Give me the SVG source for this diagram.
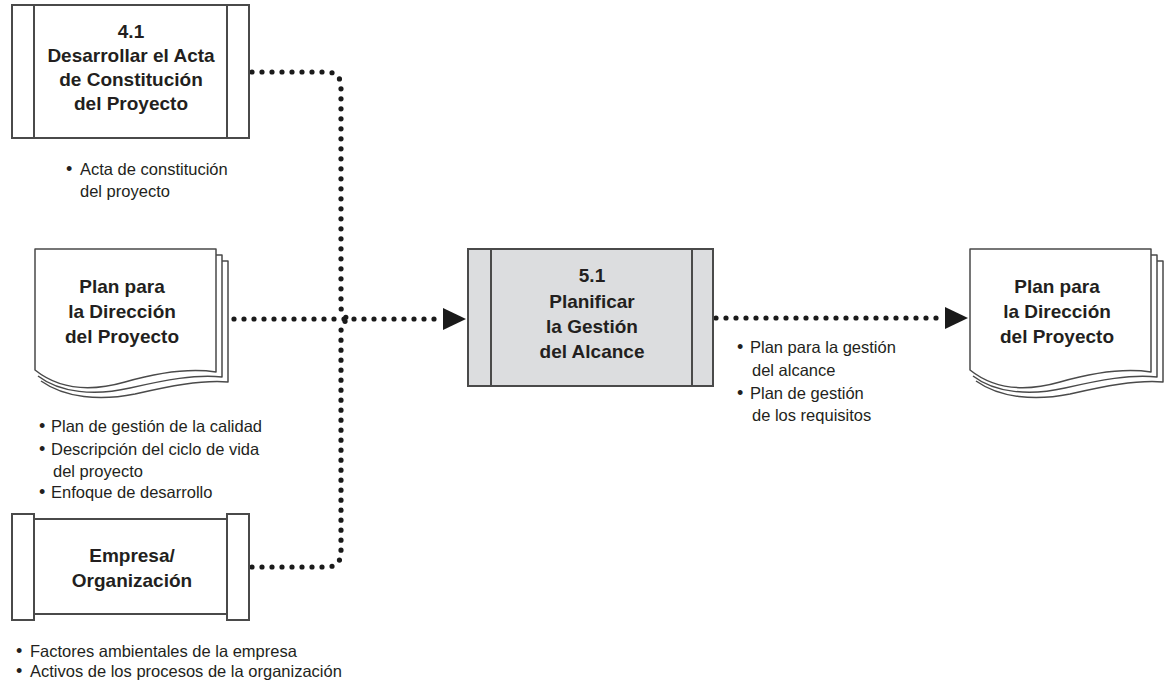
<svg xmlns="http://www.w3.org/2000/svg" width="1164" height="685" viewBox="0 0 1164 685">
<style>
.box{fill:#fff;stroke:#4a4a4a;stroke-width:2}
.gbox{fill:#dcdddf;stroke:#4a4a4a;stroke-width:2}
.ln{stroke:#4a4a4a;stroke-width:2;fill:none}
.pg{fill:#fff;stroke:#4a4a4a;stroke-width:1.5;stroke-linejoin:round}
.lbl{font-family:"Liberation Sans",Arial,sans-serif;font-weight:bold;font-size:19px;fill:#231f20;text-anchor:middle}
.b{font-family:"Liberation Sans",Arial,sans-serif;font-size:16.5px;fill:#231f20}
.bu{font-size:18px}
.dot{fill:none;stroke:#1a1a1a;stroke-width:5.2;stroke-linecap:round;stroke-dasharray:0 10}
</style>
<defs>
<marker id="arr" markerUnits="userSpaceOnUse" markerWidth="24" markerHeight="24" viewBox="0 0 24 24" refX="1" refY="12" orient="auto">
<path d="M0,1 L23,12 L0,23 Z" fill="#1a1a1a"/>
</marker>
<g id="doc">
<path class="pg" d="M216,261 H228 V382 C200,380 170,386 135,394 C100,401 65,398 41,381"/>
<path class="pg" d="M210,255 H222 V377 C196,374 165,380 130,388 C95,396 60,393 38,376"/>
<path class="pg" d="M35,249 H216 V372 C190,368 160,372 125,382 C90,392 60,390 35,370 Z"/>
</g>
</defs>

<g id="connectors">
<path class="dot" d="M252,72 H326 Q341,72 341,87 V306 Q341,319 353,319"/>
<path class="dot" d="M252,567 H326 Q341,567 341,552 V332 Q341,319 353,319"/>
<path class="dot" d="M234,319 H444" marker-end="url(#arr)"/>
<path class="dot" d="M716,318 H946" marker-end="url(#arr)"/>
</g>

<g id="n41">
<rect class="box" x="12" y="5" width="237" height="133"/>
<line class="ln" x1="34" y1="5" x2="34" y2="138"/>
<line class="ln" x1="227" y1="5" x2="227" y2="138"/>
<text class="lbl" x="131" y="38">4.1</text>
<text class="lbl" x="131" y="62">Desarrollar el Acta</text>
<text class="lbl" x="131" y="86">de Constitución</text>
<text class="lbl" x="131" y="110">del Proyecto</text>
<text class="b"><tspan class="bu" x="66" y="175">•</tspan><tspan x="80" y="175">Acta de constitución</tspan><tspan x="80" y="197">del proyecto</tspan></text>
</g>

<g id="plan-in">
<use href="#doc"/>
<text class="lbl" x="122" y="293">Plan para</text>
<text class="lbl" x="122" y="318">la Dirección</text>
<text class="lbl" x="122" y="343">del Proyecto</text>
<text class="b"><tspan class="bu" x="39" y="432">•</tspan><tspan x="51" y="432">Plan de gestión de la calidad</tspan><tspan class="bu" x="39" y="455">•</tspan><tspan x="51" y="455">Descripción del ciclo de vida</tspan><tspan x="53" y="477">del proyecto</tspan><tspan class="bu" x="39" y="498">•</tspan><tspan x="51" y="498">Enfoque de desarrollo</tspan></text>
</g>

<g id="empresa">
<rect class="box" x="34" y="519" width="193" height="95"/>
<rect class="box" x="12" y="514" width="22" height="106"/>
<rect class="box" x="227" y="514" width="22" height="106"/>
<text class="lbl" x="132" y="562">Empresa/</text>
<text class="lbl" x="132" y="587">Organización</text>
<text class="b"><tspan class="bu" x="16" y="657">•</tspan><tspan x="30" y="657">Factores ambientales de la empresa</tspan><tspan class="bu" x="16" y="677">•</tspan><tspan x="30" y="677">Activos de los procesos de la organización</tspan></text>
</g>

<g id="n51">
<rect class="gbox" x="468" y="249" width="245" height="137"/>
<line class="ln" x1="491" y1="249" x2="491" y2="386"/>
<line class="ln" x1="692" y1="249" x2="692" y2="386"/>
<text class="lbl" x="592" y="282">5.1</text>
<text class="lbl" x="592" y="308">Planificar</text>
<text class="lbl" x="592" y="333">la Gestión</text>
<text class="lbl" x="592" y="358">del Alcance</text>
</g>

<g id="outputs">
<text class="b"><tspan class="bu" x="737" y="353">•</tspan><tspan x="750" y="353">Plan para la gestión</tspan><tspan x="752" y="376">del alcance</tspan><tspan class="bu" x="737" y="399">•</tspan><tspan x="750" y="399">Plan de gestión</tspan><tspan x="752" y="421">de los requisitos</tspan></text>
</g>

<g id="plan-out">
<use href="#doc" x="935"/>
<text class="lbl" x="1057" y="293">Plan para</text>
<text class="lbl" x="1057" y="318">la Dirección</text>
<text class="lbl" x="1057" y="343">del Proyecto</text>
</g>
</svg>
